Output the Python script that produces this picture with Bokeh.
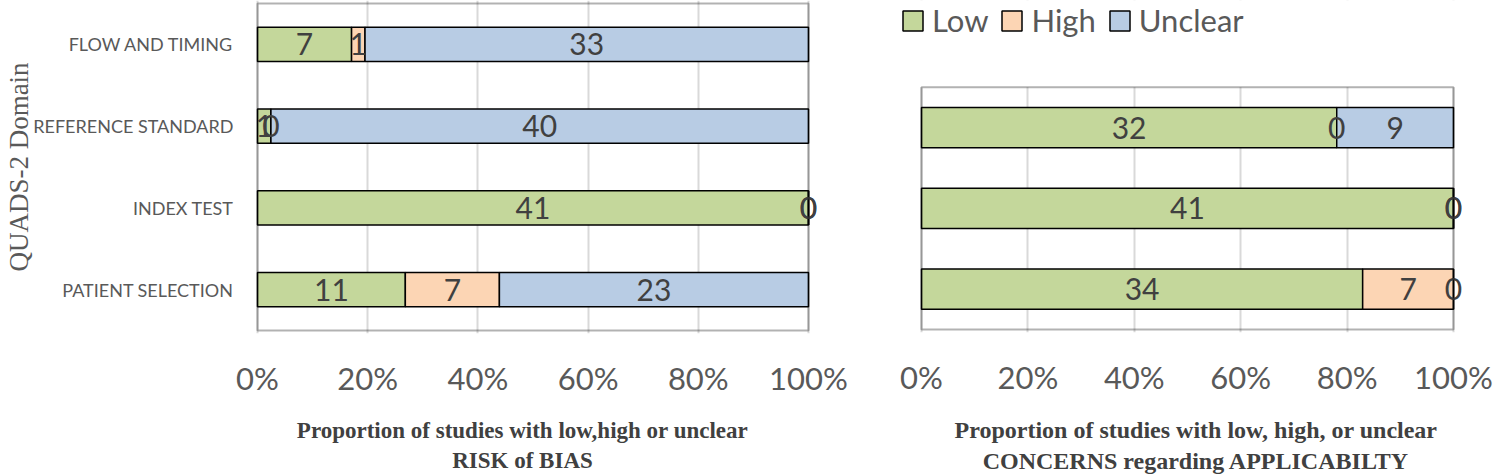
from bokeh.plotting import figure
from bokeh.models import (ColumnDataSource, FixedTicker, NumeralTickFormatter, Legend,
                          LegendItem, Range1d, FactorRange, LabelSet, BoxAnnotation)
from bokeh.core.properties import value
from bokeh.embed import file_html
from bokeh.resources import INLINE

# ---------------- data ----------------
domains_bias = ["PATIENT SELECTION", "INDEX TEST", "REFERENCE STANDARD", "FLOW AND TIMING"]
bias_low = [11, 41, 1, 7]
bias_high = [7, 0, 0, 1]
bias_unclear = [23, 0, 40, 33]

domains_app = ["PATIENT SELECTION", "INDEX TEST", "REFERENCE STANDARD"]
app_low = [34, 41, 32]
app_high = [7, 0, 0]
app_unclear = [0, 0, 9]

series = ["Low", "High", "Unclear"]
colors = ["#C4D79B", "#FCD5B4", "#B8CCE4"]
x_ticks = [0, 0.2, 0.4, 0.6, 0.8, 1.0]

title_bias = "Proportion of studies with low,high or unclear\nRISK of BIAS"
title_app = "Proportion of studies with low, high, or unclear\nCONCERNS regarding APPLICABILTY"
y_title = "QUADS-2 Domain"

SANS = "Lato"
SERIF = "Liberation Serif"


def build_sources(low, high, unclear, ypos):
    keys = ["low", "high", "unclear"]
    counts = [low, high, unclear]
    totals = [a + b + c for a, b, c in zip(low, high, unclear)]
    data = {"y": ypos}
    for k, c in zip(keys, counts):
        data[k] = [v / t for v, t in zip(c, totals)]
    lx, ly, lt = [], [], []
    for i, yy in enumerate(ypos):
        start = 0.0
        for k, c in zip(keys, counts):
            w = data[k][i]
            lx.append(start + w / 2)
            ly.append(yy)
            lt.append(str(c[i]))
            start += w
    return ColumnDataSource(data), ColumnDataSource(dict(x=lx, y=ly, t=lt))


def make_fig(ypos, y_range, x_range, low, high, unclear, xtitle, title_size, width, height,
             mb_left, mb_right, mb_top, mb_bottom, bar_h, n_rows, cover_top):
    src, lab = build_sources(low, high, unclear, ypos)
    p = figure(width=width, height=height, y_range=y_range, x_range=x_range,
               output_backend="svg", toolbar_location=None, title=None,
               min_border_left=mb_left, min_border_right=mb_right,
               min_border_top=mb_top, min_border_bottom=mb_bottom)
    p.outline_line_color = None
    p.ygrid.grid_line_color = None
    p.xgrid.grid_line_color = "#D9D9D9"
    p.xgrid.grid_line_width = 2
    if cover_top:
        # blank area above the chart box (holds the legend)
        p.add_layout(BoxAnnotation(bottom=n_rows, fill_color="white", fill_alpha=1,
                                   line_color=None, level="underlay"))
    rs = p.hbar_stack(["low", "high", "unclear"], y="y", height=bar_h, color=colors,
                      line_color="black", line_width=1.5, source=src)
    labels = LabelSet(x="x", y="y", text="t", source=lab, text_align="center",
                      text_baseline="middle", text_font=value(SANS),
                      text_font_size="30px", text_color="#404040")
    p.add_layout(labels)
    # chart box from 0% to 100% around all rows
    p.add_layout(BoxAnnotation(left=0, right=1, bottom=0, top=n_rows, fill_alpha=0,
                               line_color="black", line_width=2, level="annotation"))
    ax = p.xaxis[0]
    ax.ticker = FixedTicker(ticks=x_ticks)
    ax.formatter = NumeralTickFormatter(format="0%")
    ax.major_label_text_font = SANS
    ax.major_label_text_font_size = "31px"
    ax.major_label_text_color = "#595959"
    ax.major_tick_out = 0
    ax.major_tick_in = 0
    ax.minor_tick_out = 0
    ax.minor_tick_in = 0
    ax.axis_line_color = None
    ax.major_label_standoff = 25
    ax.axis_label = xtitle
    ax.axis_label_text_font = SERIF
    ax.axis_label_text_font_style = "bold"
    ax.axis_label_text_font_size = title_size
    ax.axis_label_text_color = "#404040"
    ax.axis_label_standoff = 18
    ya = p.yaxis[0]
    ya.major_tick_out = 0
    ya.major_tick_in = 0
    ya.axis_line_color = None
    ya.major_label_text_font = SANS
    ya.major_label_text_font_size = "18px"
    ya.major_label_text_color = "#595959"
    return p, rs


EDGE = 3  # px of room kept around the chart boxes

# ---- left panel: risk of bias (categorical rows) ----
W1 = 551          # px for 0..100%
ROW1 = 81.75      # px per row
PAD1_L, PAD1_R = 31, 10
p1, r1 = make_fig(domains_bias,
                  FactorRange(*domains_bias, range_padding=EDGE / ROW1,
                              range_padding_units="absolute"),
                  Range1d(-PAD1_L / W1, 1 + PAD1_R / W1),
                  bias_low, bias_high, bias_unclear, title_bias, "23px",
                  865, 476, 257 - PAD1_L, 865 - 257 - W1 - PAD1_R, 0, 143, 0.42,
                  len(domains_bias), False)
yax = p1.yaxis[0]
yax.major_label_standoff = 24 - PAD1_L
yax.axis_label = y_title
yax.axis_label_text_font = SERIF
yax.axis_label_text_font_style = "normal"
yax.axis_label_text_font_size = "27px"
yax.axis_label_text_color = "#595959"
yax.axis_label_standoff = -4

# ---- right panel: applicability (rows from the bottom, legend space on top) ----
W2 = 532
ROW2 = 81
PAD2_L, PAD2_R = 21, 38
n_app = len(domains_app)
ypos_app = [i + 0.5 for i in range(n_app)]
p2, r2 = make_fig(ypos_app, Range1d(-EDGE / ROW2, 330 / ROW2),
                  Range1d(-PAD2_L / W2, 1 + PAD2_R / W2),
                  app_low, app_high, app_unclear, title_app, "24px",
                  629, 476, 35, 629 - 35 - W2 - PAD2_L - PAD2_R, 0, 143, 0.5, n_app, True)
p2.yaxis.visible = False

legend = Legend(items=[LegendItem(label=s, renderers=[r]) for s, r in zip(series, r2)],
                location=(0, 293), orientation="horizontal")
legend.label_text_font = SANS
legend.label_text_font_size = "31px"
legend.label_text_color = "#595959"
legend.glyph_width = 25
legend.glyph_height = 25
legend.label_standoff = 7
legend.spacing = 11
legend.padding = 0
legend.margin = 0
legend.border_line_color = None
legend.background_fill_alpha = 0
p2.add_layout(legend)

# the two panels are separate roots laid side by side (their boxes sit at different heights)
html = file_html([p1, p2], INLINE)
html = html.replace("</head>",
                    "<style>body{display:flex;align-items:flex-start;}</style></head>", 1)
open("out.html", "w").write(html)
